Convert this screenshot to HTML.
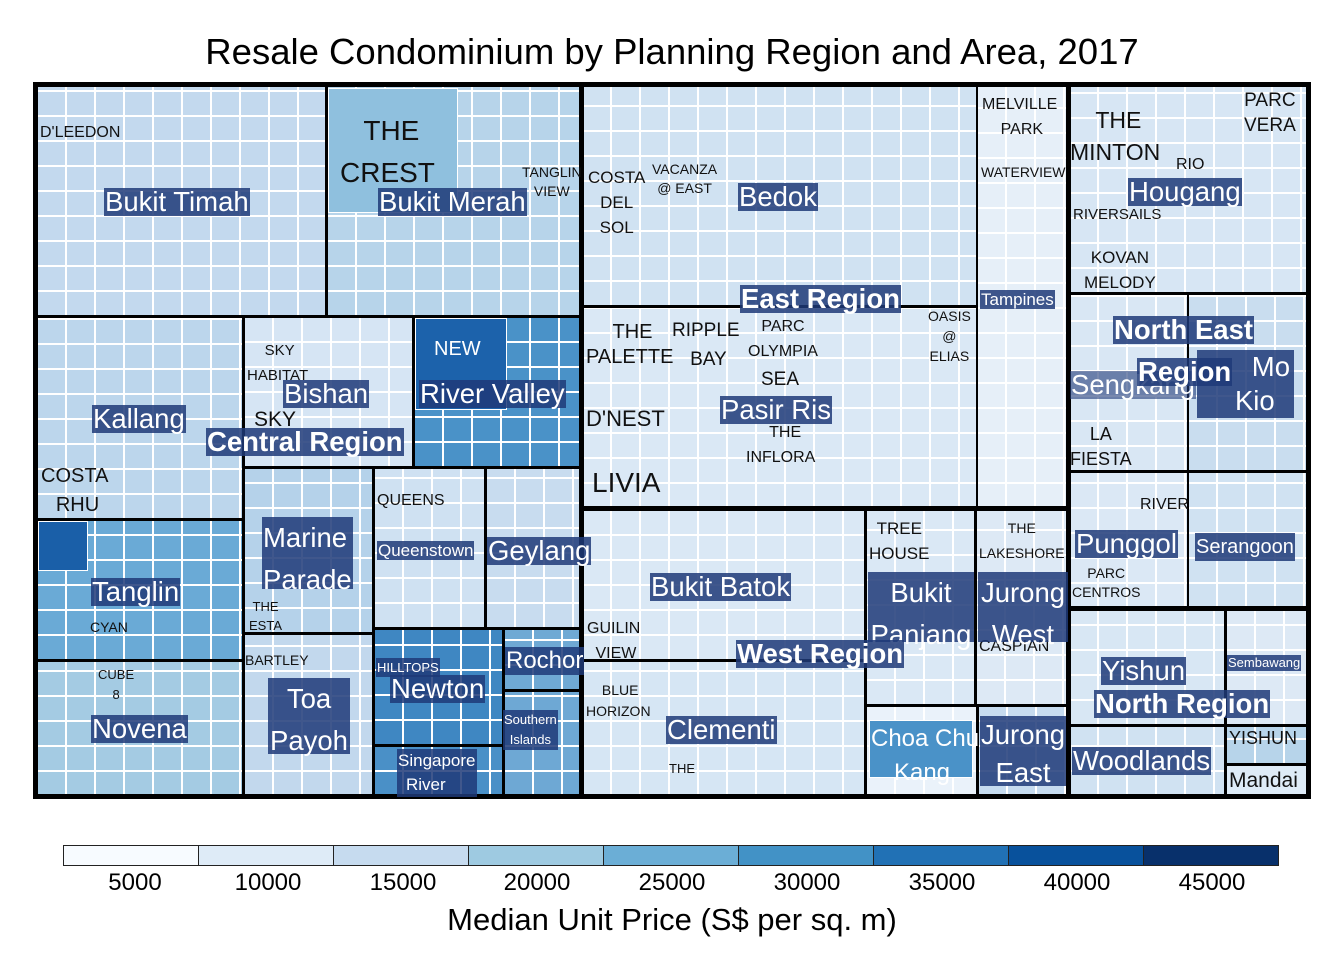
<!DOCTYPE html>
<html><head><meta charset="utf-8"><style>
body{margin:0;width:1344px;height:960px;background:#fff;font-family:"Liberation Sans",sans-serif;position:relative;overflow:hidden}
.a{position:absolute;box-sizing:border-box;border:2px solid #000;
background-image:repeating-linear-gradient(90deg,transparent 0 27px,#fff 27px 29px),repeating-linear-gradient(0deg,transparent 0 23px,#fff 23px 25px);}
.r{position:absolute;box-sizing:border-box;border:5px solid #000;}
.c{position:absolute;box-sizing:border-box;border:1px solid #fff}
.l{position:absolute;color:#fff;background:rgba(31,58,120,.85);font-size:27.5px;line-height:28px;white-space:nowrap;padding:0 1px}
.b{font-weight:bold}
.s{font-size:17px;line-height:19px}
.t{position:absolute;color:#111;font-size:15px;line-height:25px;text-align:center;white-space:nowrap}
.lg{position:absolute;top:845px;height:21px;box-sizing:border-box;border:1px solid #222}
.tk{position:absolute;top:869px;font-size:24px;width:100px;text-align:center;margin-left:-50px}
</style></head><body>
<div style="position:absolute;top:31px;left:0;width:1344px;text-align:center;font-size:36.5px">Resale Condominium by Planning Region and Area, 2017</div>

<!-- Central -->
<div class="a" style="left:36px;top:85px;width:291px;height:232px;background-color:#c3d9ee"></div>
<div class="a" style="left:326px;top:85px;width:256px;height:232px;background-color:#b7d4ea"></div>
<div class="c" style="left:328px;top:88px;width:130px;height:125px;background:#8fc0de"></div>
<div class="a" style="left:36px;top:316px;width:208px;height:204px;background-color:#bcd6ec"></div>
<div class="a" style="left:243px;top:316px;width:171px;height:152px;background-color:#d6e5f4"></div>
<div class="a" style="left:413px;top:316px;width:169px;height:152px;background-color:#4a92c8"></div>
<div class="c" style="left:415px;top:318px;width:92px;height:92px;background:#1c62ab"></div>
<div class="a" style="left:36px;top:519px;width:208px;height:142px;background-color:#6aaad6"></div>
<div class="c" style="left:38px;top:521px;width:50px;height:50px;background:#1a5fa8"></div>
<div class="a" style="left:36px;top:660px;width:208px;height:137px;background-color:#a4cbe3"></div>
<div class="a" style="left:243px;top:467px;width:131px;height:167px;background-color:#b5d2ea"></div>
<div class="a" style="left:373px;top:467px;width:113px;height:162px;background-color:#cfe1f2"></div>
<div class="a" style="left:485px;top:467px;width:97px;height:162px;background-color:#c8dcef"></div>
<div class="a" style="left:243px;top:633px;width:131px;height:164px;background-color:#c2d8ed"></div>
<div class="a" style="left:373px;top:628px;width:131px;height:118px;background-color:#3f87c2"></div>
<div class="a" style="left:373px;top:745px;width:131px;height:52px;background-color:#4a90c7"></div>
<div class="a" style="left:503px;top:628px;width:79px;height:63px;background-color:#6fa9d4"></div>
<div class="a" style="left:503px;top:690px;width:79px;height:107px;background-color:#6ea8d4"></div>
<!-- East -->
<div class="a" style="left:581px;top:85px;width:397px;height:222px;background-color:#d0e2f2"></div>
<div class="a" style="left:581px;top:306px;width:397px;height:203px;background-color:#dae8f5"></div>
<div class="a" style="left:976px;top:85px;width:93px;height:424px;background-color:#e6eff8"></div>
<!-- NE -->
<div class="a" style="left:1068px;top:85px;width:241px;height:209px;background-color:#d7e6f4"></div>
<div class="a" style="left:1068px;top:293px;width:121px;height:179px;background-color:#d9e7f4"></div>
<div class="a" style="left:1187px;top:293px;width:122px;height:179px;background-color:#c9ddef"></div>
<div class="a" style="left:1068px;top:471px;width:121px;height:138px;background-color:#dbe8f5"></div>
<div class="a" style="left:1187px;top:471px;width:122px;height:138px;background-color:#d0e2f2"></div>
<!-- West -->
<div class="a" style="left:581px;top:508px;width:285px;height:153px;background-color:#dae8f5"></div>
<div class="a" style="left:581px;top:660px;width:285px;height:137px;background-color:#d6e6f4"></div>
<div class="a" style="left:865px;top:508px;width:111px;height:198px;background-color:#dae8f5"></div>
<div class="a" style="left:975px;top:508px;width:94px;height:198px;background-color:#dde9f5"></div>
<div class="a" style="left:865px;top:705px;width:113px;height:92px;background-color:#eaf2fa"></div>
<div class="c" style="left:869px;top:720px;width:104px;height:58px;background:#4a92c8"></div>
<div class="a" style="left:977px;top:705px;width:92px;height:92px;background-color:#c6dbef"></div>
<!-- North -->
<div class="a" style="left:1068px;top:608px;width:158px;height:118px;background-color:#d8e7f4"></div>
<div class="a" style="left:1068px;top:725px;width:158px;height:72px;background-color:#d0e2f2"></div>
<div class="a" style="left:1225px;top:608px;width:84px;height:118px;background-color:#dde9f5"></div>
<div class="a" style="left:1225px;top:725px;width:84px;height:40px;background-color:#b7d4ea"></div>
<div class="a" style="left:1225px;top:764px;width:84px;height:33px;background:#deebf7"></div>

<!-- region borders -->
<div class="r" style="left:33px;top:82px;width:551px;height:717px"></div>
<div class="r" style="left:579px;top:82px;width:492px;height:429px"></div>
<div class="r" style="left:1066px;top:82px;width:245px;height:529px"></div>
<div class="r" style="left:579px;top:506px;width:492px;height:293px"></div>
<div class="r" style="left:1066px;top:606px;width:245px;height:193px"></div>

<!-- project labels -->
<div class="t" style="left:40px;top:120px;font-size:16px">D'LEEDON</div>
<div class="t" style="left:340px;top:110px;font-size:28px;line-height:42px">&nbsp;THE<br>CREST</div>
<div class="t" style="left:522px;top:163px;font-size:14px;line-height:19px">TANGLIN<br>VIEW</div>
<div class="t" style="left:588px;top:165px;font-size:17px">COSTA<br>DEL<br>SOL</div>
<div class="t" style="left:652px;top:160px;font-size:14px;line-height:19px">VACANZA<br>@ EAST</div>
<div class="t" style="left:982px;top:92px;font-size:16px">MELVILLE<br>&nbsp;PARK</div>
<div class="t" style="left:981px;top:160px;font-size:14px">WATERVIEW</div>
<div class="t" style="left:1070px;top:104px;font-size:23px;line-height:32px">&nbsp;THE<br>MINTON</div>
<div class="t" style="left:1244px;top:88px;font-size:19px">PARC<br>VERA</div>
<div class="t" style="left:1176px;top:152px;font-size:16px">RIO</div>
<div class="t" style="left:1073px;top:202px;font-size:15px">RIVERSAILS</div>
<div class="t" style="left:1084px;top:245px;font-size:17px">KOVAN<br>MELODY</div>
<div class="t" style="left:247px;top:338px;font-size:15px">&nbsp;SKY<br>HABITAT</div>
<div class="t" style="left:254px;top:407px;font-size:21px;line-height:26px">SKY</div>
<div class="t" style="left:434px;top:337px;font-size:20px;color:#fff">NEW</div>
<div class="t" style="left:586px;top:320px;font-size:20px">&nbsp;THE<br>PALETTE</div>
<div class="t" style="left:672px;top:316px;font-size:19px;line-height:29px">RIPPLE<br>&nbsp;BAY</div>
<div class="t" style="left:748px;top:314px;font-size:16px">PARC<br>OLYMPIA</div>
<div class="t" style="left:928px;top:306px;font-size:14px;line-height:20px">OASIS<br>@<br>ELIAS</div>
<div class="t" style="left:761px;top:367px;font-size:19px">SEA</div>
<div class="t" style="left:746px;top:420px;font-size:16px">&nbsp;&nbsp;THE<br>INFLORA</div>
<div class="t" style="left:586px;top:406px;font-size:22px">D'NEST</div>
<div class="t" style="left:592px;top:470px;font-size:28px">LIVIA</div>
<div class="t" style="left:41px;top:462px;font-size:20px;line-height:29px">COSTA<br>&nbsp;RHU</div>
<div class="t" style="left:377px;top:488px;font-size:16px">QUEENS</div>
<div class="t" style="left:1140px;top:492px;font-size:16px">RIVER</div>
<div class="t" style="left:1072px;top:564px;font-size:14px;line-height:19px">PARC<br>CENTROS</div>
<div class="t" style="left:1070px;top:422px;font-size:18px">LA<br>FIESTA</div>
<div class="t" style="left:869px;top:516px;font-size:17px">TREE<br>HOUSE</div>
<div class="t" style="left:979px;top:516px;font-size:14px">THE<br>LAKESHORE</div>
<div class="t" style="left:979px;top:636px;font-size:16px;line-height:22px">CASPIAN</div>
<div class="t" style="left:587px;top:616px;font-size:16px">GUILIN<br>&nbsp;VIEW</div>
<div class="t" style="left:586px;top:680px;font-size:14px;line-height:21px">&nbsp;BLUE<br>HORIZON</div>
<div class="t" style="left:669px;top:756px;font-size:13px">THE</div>
<div class="t" style="left:249px;top:597px;font-size:13px;line-height:19px">THE<br>ESTA</div>
<div class="t" style="left:90px;top:615px;font-size:14px">CYAN</div>
<div class="t" style="left:98px;top:665px;font-size:13px;line-height:20px">CUBE<br>8</div>
<div class="t" style="left:245px;top:650px;font-size:14px;line-height:20px">BARTLEY</div>
<div class="t" style="left:1229px;top:726px;font-size:18px">YISHUN</div>
<div class="t" style="left:1229px;top:768px;font-size:21px">Mandai</div>

<!-- area labels -->
<div class="l" style="left:104px;top:188px">Bukit Timah</div>
<div class="l" style="left:378px;top:188px">Bukit Merah</div>
<div class="l" style="left:738px;top:183px">Bedok</div>
<div class="l b" style="left:740px;top:285px">East Region</div>
<div class="l s" style="left:980px;top:290px">Tampines</div>
<div class="l" style="left:1128px;top:178px">Hougang</div>
<div class="l b" style="left:1113px;top:316px">North East</div>
<div class="l" style="left:1070px;top:371px;background:rgba(31,58,120,.6)">Sengkang</div>
<div class="l" style="left:1197px;top:350px;width:97px;height:68px;line-height:34px;text-align:right;padding-right:4px;box-sizing:border-box">Mo<br>Kio&nbsp;&nbsp;</div>
<div class="l b" style="left:1137px;top:358px">Region</div>
<div class="l" style="left:92px;top:405px">Kallang</div>
<div class="l" style="left:283px;top:380px">Bishan</div>
<div class="l" style="left:419px;top:380px">River Valley</div>
<div class="l b" style="left:206px;top:428px">Central Region</div>
<div class="l" style="left:720px;top:396px">Pasir Ris</div>
<div class="l" style="left:262px;top:517px;height:72px;line-height:42px">Marine<br>Parade</div>
<div class="l s" style="left:377px;top:541px">Queenstown</div>
<div class="l" style="left:487px;top:537px">Geylang</div>
<div class="l" style="left:1075px;top:530px">Punggol</div>
<div class="l" style="left:1195px;top:533px;font-size:20px">Serangoon</div>
<div class="l" style="left:650px;top:573px">Bukit Batok</div>
<div class="l" style="left:868px;top:572px;height:70px;line-height:42px;width:104px;text-align:center">Bukit<br>Panjang</div>
<div class="l" style="left:978px;top:572px;height:70px;line-height:42px;width:88px;text-align:center">Jurong<br>West</div>
<div class="l b" style="left:736px;top:640px">West Region</div>
<div class="l" style="left:91px;top:578px">Tanglin</div>
<div class="l" style="left:505px;top:647px;font-size:24px">Rochor</div>
<div class="l" style="left:1101px;top:657px">Yishun</div>
<div class="l s" style="left:1227px;top:655px;font-size:13px;line-height:16px">Sembawang</div>
<div class="l b" style="left:1094px;top:690px">North Region</div>
<div class="l" style="left:268px;top:678px;height:76px;line-height:42px;width:80px;text-align:center">Toa<br>Payoh</div>
<div class="l s" style="left:376px;top:658px;font-size:13px">HILLTOPS</div>
<div class="l" style="left:390px;top:675px">Newton</div>
<div class="l" style="left:91px;top:715px">Novena</div>
<div class="l" style="left:666px;top:716px">Clementi</div>
<div class="l" style="left:870px;top:722px;font-size:24px;line-height:34px;width:102px;text-align:center;background:transparent">Choa Chu<br>Kang</div>
<div class="l" style="left:980px;top:716px;height:70px;line-height:38px;width:84px;text-align:center">Jurong<br>East</div>
<div class="l" style="left:1072px;top:747px">Woodlands</div>
<div class="l s" style="left:397px;top:749px;line-height:24px">Singapore<br><span style="padding-left:8px">River</span></div>
<div class="l s" style="left:503px;top:710px;font-size:13px;line-height:20px;text-align:center">Southern<br>Islands</div>

<!-- legend -->
<div class="lg" style="left:63px;width:136px;background:#f7fbff"></div>
<div class="lg" style="left:198px;width:136px;background:#deebf7"></div>
<div class="lg" style="left:333px;width:136px;background:#c6dbef"></div>
<div class="lg" style="left:468px;width:136px;background:#9ecae1"></div>
<div class="lg" style="left:603px;width:136px;background:#6baed6"></div>
<div class="lg" style="left:738px;width:136px;background:#4292c6"></div>
<div class="lg" style="left:873px;width:136px;background:#2171b5"></div>
<div class="lg" style="left:1008px;width:136px;background:#08519c"></div>
<div class="lg" style="left:1143px;width:136px;background:#08306b"></div>
<div class="tk" style="left:135px">5000</div>
<div class="tk" style="left:268px">10000</div>
<div class="tk" style="left:403px">15000</div>
<div class="tk" style="left:537px">20000</div>
<div class="tk" style="left:672px">25000</div>
<div class="tk" style="left:807px">30000</div>
<div class="tk" style="left:942px">35000</div>
<div class="tk" style="left:1077px">40000</div>
<div class="tk" style="left:1212px">45000</div>
<div style="position:absolute;top:902px;left:0;width:1344px;text-align:center;font-size:31px">Median Unit Price (S$ per sq. m)</div>
</body></html>
